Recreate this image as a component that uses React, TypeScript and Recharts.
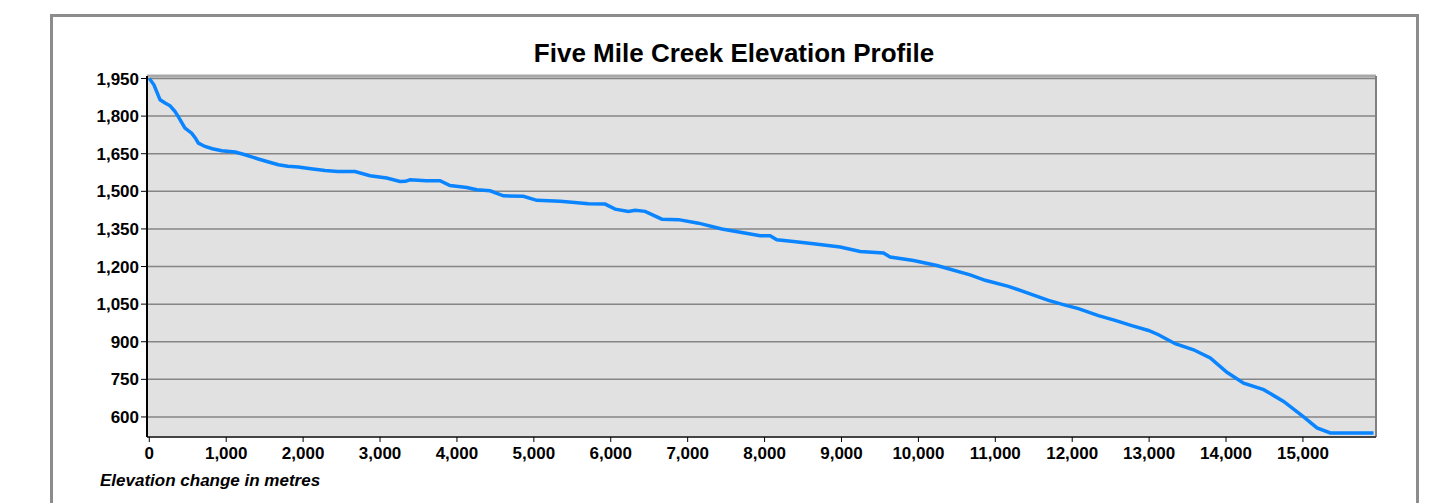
import React from 'react';
import { LineChart, Line, XAxis, YAxis, CartesianGrid, ReferenceLine } from 'recharts';

const distance = [
    0, 60, 140, 205, 270, 330, 377, 420, 464, 551, 600, 638, 724, 820, 941, 1115, 1245, 1418, 1540, 1678,
    1800, 1938, 2100, 2285, 2450, 2675, 2870, 3087, 3260, 3330, 3390, 3600, 3780, 3910, 4128, 4258, 4431, 4604, 4864, 5038,
    5341, 5493, 5710, 5927, 6057, 6230, 6317, 6447, 6664, 6881, 7141, 7444, 7704, 7942, 8072, 8159, 8376, 8636, 8983, 9243,
    9546, 9633, 9936, 10240, 10673, 10868, 11171, 11388, 11691, 11908, 12081, 12341, 12558, 12775, 12992, 13122, 13339, 13578, 13795, 14012,
    14229, 14489, 14749, 15009, 15183, 15356, 15600, 15918,
];

const elevation = [
    1950, 1925, 1865, 1852, 1841, 1820, 1798, 1775, 1752, 1732, 1712, 1692, 1679, 1670, 1662, 1657, 1646, 1629, 1618, 1606,
    1600, 1597, 1590, 1583, 1579, 1579, 1562, 1553, 1539, 1540, 1546, 1542, 1542, 1523, 1515, 1506, 1502, 1482, 1480, 1464,
    1460, 1456, 1450, 1449, 1429, 1420, 1424, 1420, 1389, 1387, 1373, 1350, 1336, 1323, 1323, 1307, 1300, 1291, 1278, 1260,
    1254, 1238, 1224, 1204, 1167, 1145, 1121, 1098, 1065, 1046, 1032, 1004, 985, 964, 945, 928, 892, 868, 835, 778,
    735, 709, 662, 600, 556, 536, 536, 536,
];

const xTicks = [0, 1000, 2000, 3000, 4000, 5000, 6000, 7000, 8000, 9000, 10000, 11000, 12000, 13000, 14000, 15000];
const yTicks = [600, 750, 900, 1050, 1200, 1350, 1500, 1650, 1800, 1950];

const data = distance.map((d, i) => ({ distance: d, elevation: elevation[i] }));

const fmt = (v: number) => v.toLocaleString('en-US');
const font = '"Liberation Sans", Arial, sans-serif';

export default function App() {
    return (
        <div style={{ position: 'absolute', left: 0, top: 0, width: 1439, height: 503, overflow: 'hidden', background: '#fff', fontFamily: font }}>
            {/* outer frame */}
            <div style={{ position: 'absolute', left: 50, top: 14, width: 1363, height: 500, border: '3px solid #8c8c8c' }} />
            <div style={{ position: 'absolute', left: 0, width: 1468, top: 38, textAlign: 'center', fontSize: 26, lineHeight: '30px', fontWeight: 'bold', color: '#000' }}>
                Five Mile Creek Elevation Profile
            </div>
            <div style={{ position: 'absolute', left: 100, top: 471, fontSize: 17, lineHeight: '20px', fontWeight: 'bold', fontStyle: 'italic', color: '#000' }}>
                Elevation change in metres
            </div>
            <div style={{ position: 'absolute', left: 0, top: 0 }}>
                <LineChart width={1439} height={503} data={data} margin={{ top: 76, right: 63, bottom: 36, left: 87 }}>
                    <CartesianGrid vertical={false} horizontal stroke="#858585" strokeWidth={1.5} fill="#e1e1e1" fillOpacity={1} />
                    <XAxis
                        dataKey="distance"
                        type="number"
                        domain={[-30, 15950]}
                        ticks={xTicks}
                        tickFormatter={fmt}
                        height={30}
                        tickSize={5}
                        tickMargin={5}
                        axisLine={{ stroke: '#444', strokeWidth: 2 }}
                        tickLine={{ stroke: '#000' }}
                        tick={{ fill: '#000', fontSize: 17, fontWeight: 'bold', fontFamily: font }}
                        interval={0}
                    />
                    <YAxis
                        type="number"
                        domain={[520, 1960]}
                        ticks={yTicks}
                        tickFormatter={fmt}
                        width={60}
                        tickSize={6}
                        tickMargin={2}
                        axisLine={{ stroke: '#000', strokeWidth: 2 }}
                        tickLine={{ stroke: '#000' }}
                        tick={{ fill: '#000', fontSize: 17, fontWeight: 'bold', fontFamily: font }}
                        interval={0}
                    />
                    <ReferenceLine y={1960} stroke="#a8a8a8" strokeWidth={3} />
                    <ReferenceLine x={15950} stroke="#808080" strokeWidth={2} />
                    <Line
                        type="linear"
                        dataKey="elevation"
                        stroke="#0a84ff"
                        strokeWidth={3.5}
                        dot={false}
                        isAnimationActive={false}
                    />
                </LineChart>
            </div>
        </div>
    );
}
